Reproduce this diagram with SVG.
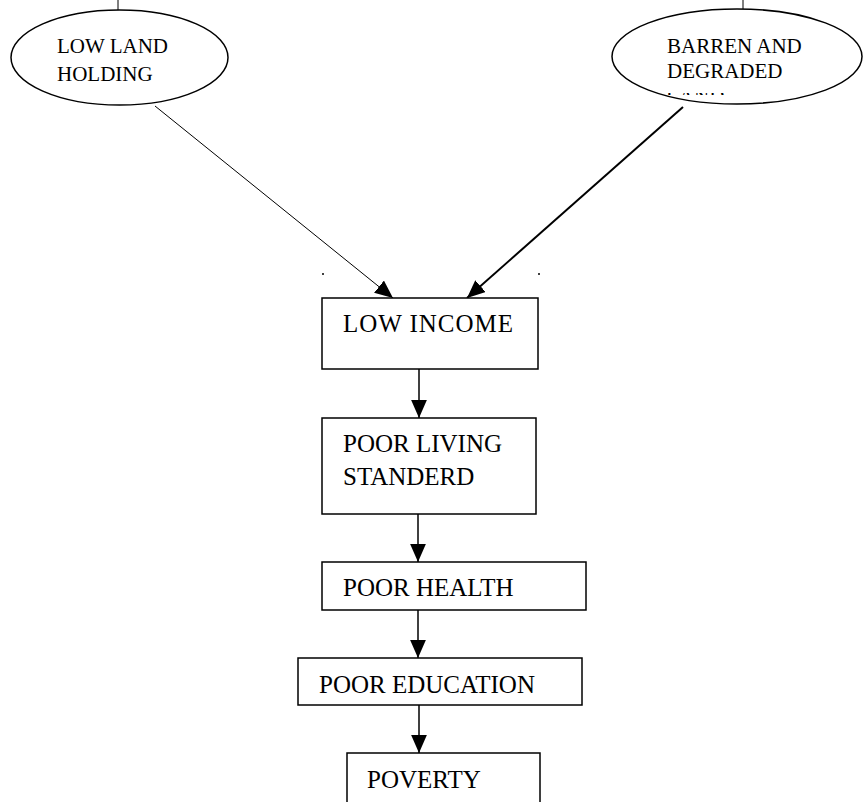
<svg xmlns="http://www.w3.org/2000/svg" width="865" height="802" viewBox="0 0 865 802">
<style>
.shape{fill:#fff;stroke:#000;stroke-width:1.5}
.t{font-family:'Liberation Serif','Times New Roman',serif;fill:#000}
.ell{font-size:21px}
.box{font-size:25px}
.conn{stroke:#000;fill:none}
</style>
<defs>
<marker id="ah" markerUnits="userSpaceOnUse" markerWidth="18" markerHeight="16" viewBox="0 0 16 14" refX="16" refY="7" orient="auto">
<path d="M0,0 L16,7 L0,14 Z" fill="#000"/>
</marker>
<clipPath id="cut"><rect x="650" y="93" width="100" height="2"/></clipPath>
</defs>
<rect width="865" height="802" fill="#fff"/>
<g id="connectors">
<line class="conn" x1="118" y1="0" x2="118" y2="10" stroke-width="1"/>
<line class="conn" x1="743" y1="0" x2="743" y2="9" stroke-width="1"/>
<line class="conn" x1="155" y1="106" x2="393" y2="298" stroke-width="1" marker-end="url(#ah)"/>
<line class="conn" x1="683" y1="107" x2="467" y2="298" stroke-width="2" marker-end="url(#ah)"/>
<line class="conn" x1="419" y1="369" x2="419" y2="418" stroke-width="1.5" marker-end="url(#ah)"/>
<line class="conn" x1="418" y1="514" x2="418" y2="562" stroke-width="1.5" marker-end="url(#ah)"/>
<line class="conn" x1="418" y1="610" x2="418" y2="658" stroke-width="1.5" marker-end="url(#ah)"/>
<line class="conn" x1="419" y1="705" x2="419" y2="753" stroke-width="1.5" marker-end="url(#ah)"/>
<circle cx="323" cy="274" r="1" fill="#000"/>
<circle cx="539" cy="274" r="1" fill="#000"/>
</g>
<g id="low-land-holding">
<ellipse class="shape" cx="119.5" cy="57.5" rx="108.5" ry="47.5"/>
<text class="t ell" x="57" y="53" textLength="111" lengthAdjust="spacingAndGlyphs">LOW LAND</text>
<text class="t ell" x="57" y="81">HOLDING</text>
</g>
<g id="barren-and-degraded-land">
<ellipse class="shape" cx="737" cy="56.5" rx="125" ry="47.5"/>
<text class="t ell" x="667" y="53">BARREN AND</text>
<text class="t ell" x="667" y="78">DEGRADED</text>
<text class="t ell" x="666" y="103" clip-path="url(#cut)" fill="#666">LAND</text>
</g>
<g id="low-income">
<rect class="shape" x="322" y="298" width="216" height="71"/>
<text class="t box" x="343" y="332" textLength="170" lengthAdjust="spacing">LOW INCOME</text>
</g>
<g id="poor-living-standerd">
<rect class="shape" x="322" y="418" width="214" height="96"/>
<text class="t box" x="343" y="452">POOR LIVING</text>
<text class="t box" x="343" y="485">STANDERD</text>
</g>
<g id="poor-health">
<rect class="shape" x="322" y="562" width="264" height="48"/>
<text class="t box" x="343" y="596">POOR HEALTH</text>
</g>
<g id="poor-education">
<rect class="shape" x="298" y="658" width="284" height="47"/>
<text class="t box" x="319" y="693">POOR EDUCATION</text>
</g>
<g id="poverty">
<rect class="shape" x="347" y="753" width="193" height="60"/>
<text class="t box" x="367" y="788">POVERTY</text>
</g>
</svg>
